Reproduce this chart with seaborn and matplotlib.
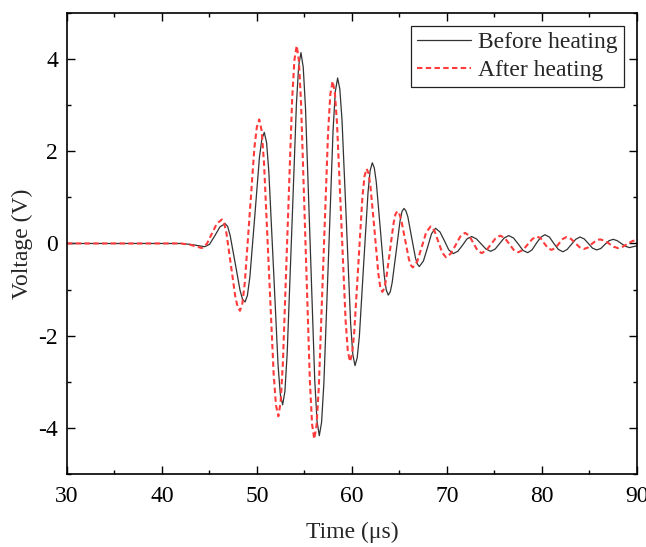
import matplotlib
matplotlib.use("Agg")
import matplotlib.pyplot as plt
import seaborn as sns
import pandas as pd
from matplotlib.ticker import MultipleLocator

# Before heating (black solid) : time in µs, voltage in V
t_before = [30, 35, 40, 42, 43, 44.5,
            45.0, 45.6, 46.1, 46.65,
            47.17, 47.70, 48.22, 48.74,
            49.25, 49.76, 50.26, 50.77,
            51.25, 51.74, 52.22, 52.70,
            53.18, 53.67, 54.15, 54.63,
            55.11, 55.60, 56.08, 56.56,
            57.04, 57.53, 58.01, 58.49,
            58.95, 59.41, 59.86, 60.32,
            60.78, 61.23, 61.69, 62.14,
            62.56, 62.98, 63.40, 63.82,
            64.23, 64.65, 65.06, 65.47,
            65.88, 66.28, 66.69, 67.09,
            67.52, 67.95, 68.37, 68.80,
            69.26, 69.73, 70.19, 70.65,
            71.14, 71.63, 72.11, 72.6,
            73.1, 73.6, 74.1, 74.6,
            75.08, 75.55, 76.03, 76.5,
            77.0, 77.5, 78.0, 78.5,
            78.95, 79.4, 79.85, 80.3,
            80.78, 81.25, 81.73, 82.2,
            82.65, 83.1, 83.55, 84.0,
            84.44, 84.88, 85.31, 85.75,
            86.19, 86.63, 87.06, 87.5,
            87.93, 88.35, 88.78, 89.2,
            90.0]
v_before = [0, 0, 0, 0, -0.02, -0.07,
            -0.02, 0.18, 0.36, 0.43,
            0.18, -0.42, -1.02, -1.27,
            -0.73, 0.57, 1.87, 2.41,
            1.55, -0.55, -2.64, -3.50,
            -2.38, 0.32, 3.02, 4.14,
            2.93, -0.02, -2.96, -4.17,
            -3.04, -0.29, 2.46, 3.59,
            2.68, 0.47, -1.74, -2.65,
            -2.01, -0.45, 1.11, 1.75,
            1.33, 0.32, -0.70, -1.12,
            -0.85, -0.18, 0.49, 0.76,
            0.58, 0.13, -0.32, -0.50,
            -0.38, -0.09, 0.21, 0.33,
            0.25, 0.06, -0.14, -0.22,
            -0.17, -0.04, 0.10, 0.15,
            0.10, -0.01, -0.12, -0.17,
            -0.12, 0.00, 0.12, 0.17,
            0.12, -0.01, -0.15, -0.20,
            -0.14, 0.00, 0.13, 0.19,
            0.14, 0.00, -0.13, -0.18,
            -0.13, -0.02, 0.09, 0.14,
            0.10, 0.00, -0.10, -0.14,
            -0.11, -0.02, 0.06, 0.09,
            0.06, 0.00, -0.06, -0.09,
            -0.05]
# extra readings close to the crests and troughs of the main burst
t_before_crest = [46.91, 48.48, 48.99, 50.52, 51.01, 52.46, 52.94, 54.39,
                  54.87, 56.32, 56.80, 58.25, 58.72, 60.09, 60.55, 61.91,
                  62.35, 63.61, 64.03, 65.26, 65.67, 66.89]
v_before_crest = [0.37, -1.21, -1.13, 2.27, 2.19, -3.28, -3.21, 3.85,
                  3.82, -3.85, -3.88, 3.30, 3.35, -2.41, -2.48, 1.58,
                  1.64, -1.01, -1.05, 0.69, 0.71, -0.45]

# After heating (red dashed)
t_after = [30, 35, 40, 42, 43, 44.2,
           44.72, 45.25, 45.77, 46.3,
           46.78, 47.26, 47.73, 48.21,
           48.72, 49.23, 49.73, 50.24,
           50.74, 51.25, 51.75, 52.25,
           52.73, 53.22, 53.70, 54.18,
           54.64, 55.11, 55.57, 56.03,
           56.51, 57.00, 57.48, 57.96,
           58.42, 58.88, 59.33, 59.79,
           60.23, 60.67, 61.10, 61.54,
           61.95, 62.37, 62.78, 63.19,
           63.59, 63.98, 64.38, 64.77,
           65.18, 65.59, 65.99, 66.40,
           66.87, 67.34, 67.81, 68.28,
           68.69, 69.09, 69.5, 69.9,
           70.4, 70.9, 71.4, 71.9,
           72.34, 72.78, 73.21, 73.65,
           74.14, 74.63, 75.11, 75.6,
           76.08, 76.55, 77.03, 77.5,
           78.0, 78.5, 79.0, 79.5,
           79.88, 80.25, 80.63, 81.0,
           81.4, 81.8, 82.2, 82.6,
           83.05, 83.5, 83.95, 84.4,
           84.83, 85.25, 85.68, 86.1,
           86.58, 87.05, 87.53, 88.0,
           88.5, 89.0, 89.5, 90.0]
v_after = [0, 0, 0, 0, -0.03, -0.10,
           -0.01, 0.21, 0.43, 0.52,
           0.23, -0.47, -1.17, -1.46,
           -0.85, 0.62, 2.08, 2.69,
           1.75, -0.53, -2.81, -3.75,
           -2.58, 0.27, 3.12, 4.29,
           3.04, 0.03, -2.99, -4.24,
           -3.11, -0.36, 2.39, 3.52,
           2.63, 0.48, -1.67, -2.56,
           -1.95, -0.47, 1.01, 1.62,
           1.23, 0.29, -0.66, -1.05,
           -0.79, -0.18, 0.44, 0.70,
           0.52, 0.09, -0.34, -0.52,
           -0.39, -0.08, 0.24, 0.37,
           0.27, 0.04, -0.20, -0.30,
           -0.22, -0.04, 0.15, 0.23,
           0.17, 0.01, -0.15, -0.21,
           -0.15, -0.02, 0.11, 0.17,
           0.12, -0.01, -0.14, -0.19,
           -0.14, -0.02, 0.10, 0.15,
           0.11, 0.00, -0.10, -0.14,
           -0.10, 0.00, 0.10, 0.14,
           0.10, 0.01, -0.08, -0.12,
           -0.09, -0.01, 0.06, 0.09,
           0.06, 0.00, -0.07, -0.10,
           -0.07, -0.01, 0.05, 0.08]
t_after_crest = [46.54, 47.97, 48.46, 49.99, 50.49, 52.00, 52.49, 53.94,
                 54.41, 55.80, 56.27, 57.72, 58.19, 59.56, 60.01, 61.32,
                 61.75, 62.98, 63.39, 64.57, 64.97, 66.20]
v_after_crest = [0.44, -1.38, -1.30, 2.53, 2.45, -3.51, -3.44, 3.98,
                 3.97, -3.92, -3.95, 3.23, 3.29, -2.33, -2.40, 1.46,
                 1.52, -0.95, -0.98, 0.63, 0.65, -0.47]

labels = ["Before heating", "After heating"]
xticks = [30, 40, 50, 60, 70, 80, 90]
yticks = [-4, -2, 0, 2, 4]

sns.set_style("ticks")
plt.rcParams["font.family"] = ["Liberation Serif", "DejaVu Serif"]

df_b = pd.DataFrame({"t": t_before + t_before_crest,
                     "v": v_before + v_before_crest}).sort_values("t")
df_a = pd.DataFrame({"t": t_after + t_after_crest,
                     "v": v_after + v_after_crest}).sort_values("t")

fig = plt.figure(figsize=(6.46, 5.47), dpi=100)
ax = fig.add_axes([0.1037, 0.1335, 0.8823, 0.8428])

sns.lineplot(data=df_b, x="t", y="v", ax=ax, color="#333333", linewidth=0.9,
             label=labels[0], sort=True, estimator=None)
sns.lineplot(data=df_a, x="t", y="v", ax=ax, color="#ff3b3b", linewidth=1.5,
             linestyle=(0, (2.6, 1.6)), label=labels[1], sort=True, estimator=None)

ax.set_xlim(30, 90)
ax.set_ylim(-5, 5)
ax.set_xticks(xticks)
ax.set_yticks(yticks)
ax.set_xticklabels([str(x) for x in xticks])
ax.set_yticklabels([str(y) for y in yticks])
ax.xaxis.set_minor_locator(MultipleLocator(5))
ax.yaxis.set_minor_locator(MultipleLocator(1))
ax.tick_params(which="both", direction="in", top=True, right=True,
               labelsize=17, width=1.0, colors="black")
ax.tick_params(axis="x", which="major", length=5.5, pad=8.5)
ax.tick_params(axis="y", which="major", length=5.5, pad=6.5)
ax.tick_params(which="minor", length=3)
for s in ax.spines.values():
    s.set_linewidth(1.2)
    s.set_color("black")

ax.set_xlabel("Time (μs)", fontsize=17, labelpad=11)
ax.set_ylabel("Voltage (V)", fontsize=17, labelpad=4)

leg = ax.legend(loc="upper right", fontsize=17, frameon=True, fancybox=False,
                framealpha=1, edgecolor="#222222", borderpad=0.25,
                handlelength=2.3, handletextpad=0.3, labelspacing=0.25,
                borderaxespad=0.55)
leg.get_frame().set_linewidth(0.9)

fig.savefig("out.png", dpi=100)
